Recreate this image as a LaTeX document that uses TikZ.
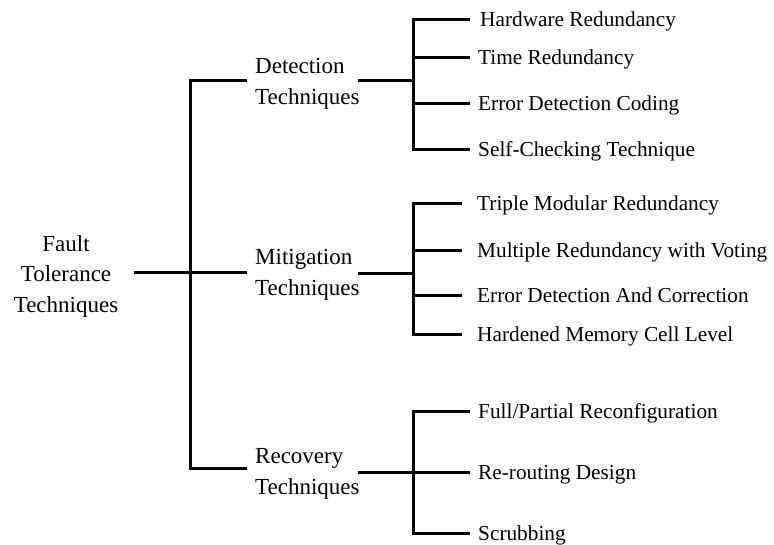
\documentclass[tikz,border=0pt]{standalone}
\usepackage{fontspec}
\setmainfont{Liberation Serif}
\begin{document}
\begin{tikzpicture}[x=1pt,y=1pt,
  link/.style={line width=3pt},
  leaf/.style={anchor=west, inner xsep=8pt, inner ysep=0pt, text height=18pt, text depth=4pt, font=\fontsize{21.3}{26}\selectfont},
  mid/.style={anchor=base west, inner sep=0pt, font=\fontsize{23}{31}\selectfont},
  rootbox/.style={anchor=base, inner sep=0pt, font=\fontsize{23}{30.5}\selectfont}]
\useasboundingbox (0,0) rectangle (774,-544);
% root
\node[rootbox] (root) at (66,-251) {\begin{tabular}[t]{@{}c@{}}Fault\\Tolerance\\Techniques\end{tabular}};
% middle nodes
\node[mid] (det) at (255,-73) {\begin{tabular}[t]{@{}l@{}}Detection\\Techniques\end{tabular}};
\node[mid] (mit) at (255,-264) {\begin{tabular}[t]{@{}l@{}}Mitigation\\Techniques\end{tabular}};
\node[mid] (rec) at (255,-463) {\begin{tabular}[t]{@{}l@{}}Recovery\\Techniques\end{tabular}};
% leaves
\node[leaf, inner xsep=10pt] (hw) at (470,-19) {Hardware Redundancy};
\node[leaf] (tr) at (470,-57.5) {Time Redundancy};
\node[leaf] (edc) at (470,-103) {Error Detection Coding};
\node[leaf] (sc) at (470,-149) {Self-Checking Technique};
\node[leaf, inner xsep=15pt] (tmr) at (462,-203) {Triple Modular Redundancy};
\node[leaf, inner xsep=15pt] (mrv) at (462,-250) {Multiple Redundancy with Voting};
\node[leaf, inner xsep=15pt] (edac) at (462,-295) {Error Detection And Correction};
\node[leaf, inner xsep=15pt] (hmc) at (462,-334) {Hardened Memory Cell Level};
\node[leaf] (fpr) at (470,-411) {Full/Partial Reconfiguration};
\node[leaf] (rrd) at (470,-472) {Re-routing Design};
\node[leaf] (scr) at (470,-533) {Scrubbing};
% connector points
\coordinate (rootOut) at (134,-272);
\coordinate (trunk) at (190,-272);
\coordinate (detIn) at (247,-80);
\coordinate (mitIn) at (247,-272);
\coordinate (recIn) at (247,-468);
\coordinate (detOut) at (358,-80);
\coordinate (mitOut) at (358,-273);
\coordinate (recOut) at (358,-472);
\coordinate (detJ) at (413,-80);
\coordinate (mitJ) at (413,-273);
\coordinate (recJ) at (413,-472);
% connectors
\draw[link] (rootOut) -- (trunk);
\draw[link] (trunk) |- (detIn);
\draw[link] (trunk) |- (recIn);
\draw[link] (trunk) -- (mitIn);
\draw[link] (detOut) -- (detJ);
\draw[link] (mitOut) -- (mitJ);
\draw[link] (recOut) -- (recJ);
\draw[link] (detJ) |- (hw.west);
\draw[link] (detJ) |- (tr.west);
\draw[link] (detJ) |- (edc.west);
\draw[link] (detJ) |- (sc.west);
\draw[link] (mitJ) |- (tmr.west);
\draw[link] (mitJ) |- (mrv.west);
\draw[link] (mitJ) |- (edac.west);
\draw[link] (mitJ) |- (hmc.west);
\draw[link] (recJ) |- (fpr.west);
\draw[link] (recJ) |- (rrd.west);
\draw[link] (recJ) |- (scr.west);
\end{tikzpicture}
\end{document}
